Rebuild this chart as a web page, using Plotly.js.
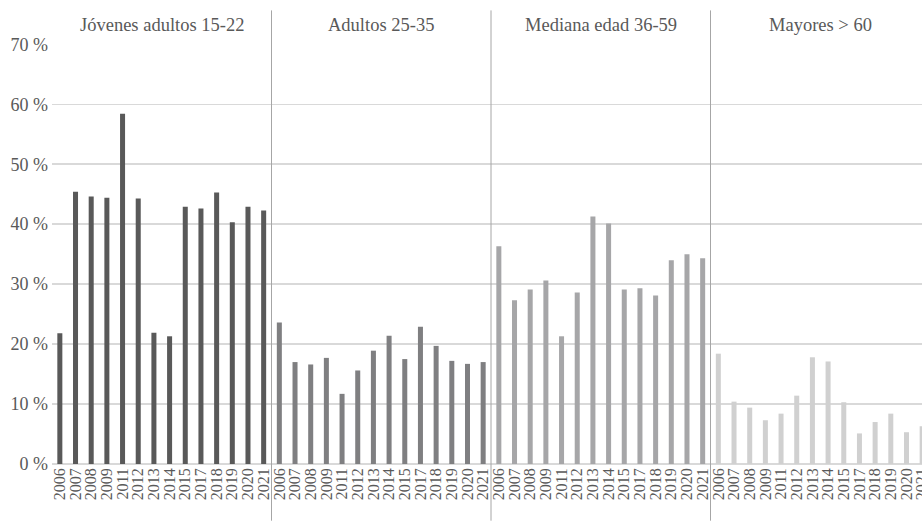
<!DOCTYPE html>
<html><head><meta charset="utf-8">
<script src="https://cdn.plot.ly/plotly-3.0.1.min.js"></script>
<style>html,body{margin:0;padding:0;background:#fff;overflow:hidden;}#c{width:930px;height:521px;}</style>
</head><body><div id="c"></div>
<script>
const years = ["2006","2007","2008","2009","2011","2012","2013","2014","2015","2017","2018","2019","2020","2021"];
const groups = ["Jóvenes adultos 15-22","Adultos 25-35","Mediana edad 36-59","Mayores > 60"];
const jovenes = [21.8,45.4,44.6,44.4,58.4,44.3,21.9,21.3,42.9,42.6,45.3,40.3,42.9,42.3];
const adultos = [23.6,17.0,16.6,17.7,11.7,15.6,18.9,21.4,17.5,22.9,19.7,17.2,16.7,17.0];
const mediana = [36.3,27.3,29.1,30.6,21.3,28.6,41.3,40.1,29.1,29.3,28.1,34.0,35.0,34.3];
const mayores = [18.4,10.4,9.4,7.3,8.4,11.4,17.8,17.1,10.3,5.1,7.0,8.4,5.3,6.3];
const series = [jovenes, adultos, mediana, mayores];
const colors = ["#595959","#7f7f81","#a6a6a8","#d0d0d0"];
const n = years.length;
const FONT = "Liberation Serif";

const traces = series.map((vals, g) => ({
  type: "bar",
  x: years.map((_, i) => g * n + i),
  y: vals,
  marker: {color: colors[g]},
  width: 0.32,
  hoverinfo: "skip",
  showlegend: false
}));

const tickvals = [], ticktext = [];
groups.forEach((_, g) => years.forEach((yr, i) => { tickvals.push(g * n + i); ticktext.push(yr); }));

const shapes = [1,2,3].map(g => ({
  type: "line", xref: "x", yref: "paper",
  x0: g * n - 0.5, x1: g * n - 0.5, y0: -0.135, y1: 1.08,
  line: {color: "#a6a6a6", width: 1}
}));

const annotations = groups.map((t, g) => ({
  text: t, xref: "x", yref: "paper", x: g * n + (n - 1) / 2, y: 1.045,
  showarrow: false, xanchor: "center", yanchor: "middle",
  font: {family: FONT, size: 18.5, color: "#595959"}
}));

const layout = {
  width: 930, height: 521,
  margin: {l: 52, r: 0, t: 44, b: 57},
  paper_bgcolor: "#fff", plot_bgcolor: "#fff",
  font: {family: FONT, color: "#595959"},
  xaxis: {
    range: [-0.5, 55.5], tickvals: tickvals, ticktext: ticktext, tickangle: -90,
    showgrid: false, zeroline: false, showline: false, ticks: "",
    ticklabeloverflow: "allow",
    tickfont: {family: FONT, size: 16, color: "#595959"},
    fixedrange: true
  },
  yaxis: {
    range: [0, 70.05], dtick: 10, ticksuffix: " %",
    gridcolor: "#d9d9d9", gridwidth: 1.5, zeroline: true, zerolinecolor: "#d9d9d9", zerolinewidth: 1.5,
    showline: false, ticks: "", ticklabelstandoff: 3,
    tickfont: {family: FONT, size: 18, color: "#595959"},
    fixedrange: true
  },
  shapes: shapes,
  annotations: annotations
};
Plotly.newPlot("c", traces, layout, {displayModeBar: false, staticPlot: true});
</script></body></html>
